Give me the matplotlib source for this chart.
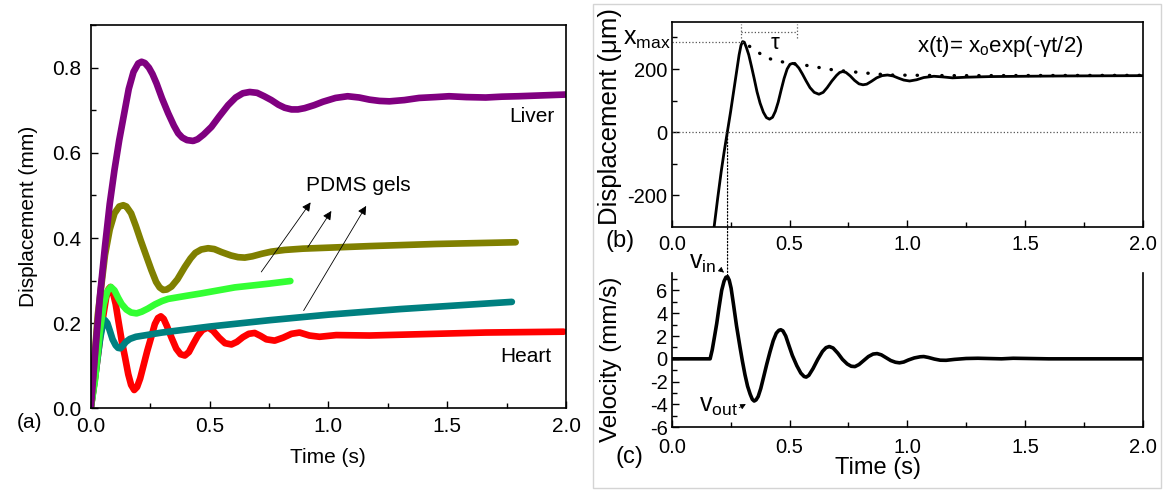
import matplotlib
matplotlib.use('Agg')
import matplotlib.pyplot as plt
from matplotlib.patches import ConnectionPatch, Rectangle
from matplotlib.ticker import MultipleLocator

plt.rcParams['font.family'] = ['Liberation Sans', 'DejaVu Sans']
plt.rcParams['mathtext.fontset'] = 'custom'
plt.rcParams['mathtext.rm'] = 'Liberation Sans'
plt.rcParams['mathtext.it'] = 'Liberation Sans'
plt.rcParams['axes.unicode_minus'] = False

# ---- panel (a): displacement of tissues and gels (mm) ----
liver_t = [0, 0.02, 0.04, 0.06, 0.08, 0.10, 0.12, 0.14, 0.16, 0.18, 0.20, 0.214, 0.228, 0.245,
           0.26, 0.277, 0.30, 0.326, 0.35, 0.368, 0.385, 0.405, 0.431, 0.45, 0.475, 0.508,
           0.54, 0.578, 0.61, 0.64, 0.669, 0.70, 0.73, 0.76, 0.79, 0.816, 0.845, 0.872, 0.90,
           0.94, 0.977, 1.03, 1.081, 1.13, 1.173, 1.215, 1.257, 1.32, 1.382, 1.45, 1.508,
           1.58, 1.662, 1.73, 1.80, 1.90, 2.0]
liver_v = [0, 0.14, 0.27, 0.38, 0.48, 0.56, 0.63, 0.69, 0.75, 0.79, 0.81, 0.814, 0.811, 0.80,
           0.785, 0.763, 0.728, 0.693, 0.664, 0.646, 0.636, 0.63, 0.628, 0.632, 0.643, 0.661,
           0.685, 0.712, 0.73, 0.74, 0.743, 0.741, 0.733, 0.724, 0.713, 0.706, 0.702, 0.702, 0.705,
           0.712, 0.72, 0.729, 0.733, 0.73, 0.725, 0.722, 0.721, 0.724, 0.729, 0.731, 0.733,
           0.731, 0.730, 0.732, 0.733, 0.735, 0.737]

gel1_t = [0, 0.03, 0.06, 0.08, 0.10, 0.12, 0.137, 0.15, 0.17, 0.19, 0.21, 0.235, 0.255, 0.275,
          0.29, 0.305, 0.32, 0.34, 0.365, 0.396, 0.42, 0.44, 0.465, 0.494, 0.52, 0.55, 0.59,
          0.62, 0.648, 0.68, 0.72, 0.76, 0.816, 0.893, 1.173, 1.452, 1.788]
gel1_v = [0, 0.22, 0.36, 0.42, 0.458, 0.474, 0.477, 0.474, 0.458, 0.428, 0.395, 0.356, 0.325,
          0.297, 0.284, 0.278, 0.279, 0.286, 0.303, 0.332, 0.352, 0.365, 0.373, 0.376, 0.374,
          0.367, 0.359, 0.355, 0.354, 0.357, 0.363, 0.368, 0.372, 0.375, 0.381, 0.386, 0.39]

gel2_t = [0, 0.018, 0.039, 0.055, 0.07, 0.085, 0.10, 0.115, 0.13, 0.15, 0.17, 0.193, 0.215,
          0.24, 0.27, 0.30, 0.326, 0.40, 0.466, 0.606, 0.753, 0.84]
gel2_v = [0, 0.066, 0.184, 0.245, 0.275, 0.285, 0.277, 0.26, 0.245, 0.232, 0.225, 0.223, 0.227,
          0.234, 0.244, 0.252, 0.257, 0.264, 0.27, 0.284, 0.293, 0.299]

gel3_t = [0, 0.02, 0.04, 0.052, 0.06, 0.07, 0.08, 0.092, 0.105, 0.115, 0.125, 0.135, 0.148,
          0.165, 0.19, 0.30, 0.50, 0.753, 1.0, 1.3, 1.55, 1.772]
gel3_v = [0, 0.08, 0.165, 0.20, 0.207, 0.20, 0.183, 0.162, 0.148, 0.142, 0.141, 0.147, 0.156,
          0.163, 0.168, 0.178, 0.192, 0.207, 0.22, 0.233, 0.242, 0.25]

heart_t = [0, 0.02, 0.045, 0.065, 0.075, 0.083, 0.092, 0.105, 0.116, 0.13, 0.144, 0.158, 0.17,
           0.183, 0.195, 0.208, 0.221, 0.238, 0.256, 0.27, 0.283, 0.295, 0.307, 0.32, 0.34,
           0.36, 0.378, 0.396, 0.413, 0.43, 0.45, 0.47, 0.494, 0.515, 0.54, 0.565, 0.592,
           0.615, 0.64, 0.665, 0.69, 0.715, 0.739, 0.774, 0.81, 0.845, 0.879, 0.92, 0.963,
           1.033, 1.173, 1.382, 1.662, 1.99]
heart_v = [0, 0.08, 0.19, 0.26, 0.28, 0.285, 0.275, 0.245, 0.207, 0.16, 0.121, 0.08, 0.055,
           0.043, 0.05, 0.07, 0.098, 0.135, 0.17, 0.198, 0.212, 0.216, 0.21, 0.194, 0.166,
           0.14, 0.127, 0.124, 0.132, 0.15, 0.17, 0.184, 0.19, 0.182, 0.166, 0.153, 0.15,
           0.156, 0.167, 0.175, 0.177, 0.17, 0.162, 0.159, 0.166, 0.175, 0.178, 0.171, 0.168,
           0.172, 0.171, 0.174, 0.178, 0.18]

# arrows (tail, head) pointing to "PDMS gels"
gel_arrows = [((0.711, 0.315), (0.932, 0.489)),
              ((0.907, 0.373), (1.019, 0.469)),
              ((0.89, 0.224), (1.165, 0.481))]

# ---- panel (b): displacement (um) ----
disp_t = [0.17, 0.18, 0.195, 0.21, 0.223, 0.236, 0.25, 0.263, 0.275, 0.286, 0.294, 0.301, 0.308,
          0.317, 0.327, 0.338, 0.35, 0.362, 0.375, 0.389, 0.402, 0.415, 0.428, 0.44, 0.452,
          0.465, 0.477, 0.49, 0.502, 0.514, 0.527, 0.54, 0.555, 0.57, 0.587, 0.605, 0.625,
          0.643, 0.66, 0.68, 0.70, 0.713, 0.726, 0.74, 0.758, 0.776, 0.795, 0.812, 0.828,
          0.848, 0.87, 0.893, 0.916, 0.94, 0.963, 0.985, 1.01, 1.04, 1.07, 1.113, 1.15,
          1.192, 1.25, 1.35, 1.5, 1.665, 2.0]
disp_v = [-360, -300, -210, -125, -60, 0, 65, 130, 190, 245, 275, 287, 285,
          268, 245, 210, 170, 128, 92, 63, 46, 41, 47, 66, 95,
          135, 170, 200, 215, 218, 214, 203, 184, 163, 141, 126, 120,
          126, 141, 162, 180, 189, 192, 189, 178, 164, 153, 150, 152,
          161, 172, 179, 181, 178, 171, 165, 162, 166, 173, 177, 175,
          172, 174, 176, 177, 178, 179]
env_t = [0.33, 0.355, 0.398, 0.466, 0.56, 0.687, 0.813, 0.923, 1.19, 2.0]
env_v = [272, 260, 236, 223, 213, 197, 188, 181, 179, 180]

# ---- panel (c): velocity (mm/s) ----
vel_t = [0, 0.163, 0.172, 0.182, 0.191, 0.20, 0.212, 0.222, 0.23, 0.237, 0.244, 0.252, 0.262,
         0.275, 0.29, 0.30, 0.311, 0.322, 0.333, 0.342, 0.35, 0.358, 0.367, 0.378, 0.39,
         0.403, 0.417, 0.431, 0.444, 0.455, 0.463, 0.472, 0.484, 0.497, 0.512, 0.531, 0.548,
         0.562, 0.571, 0.582, 0.60, 0.62, 0.64, 0.655, 0.669, 0.685, 0.705, 0.725, 0.745,
         0.762, 0.778, 0.795, 0.815, 0.835, 0.855, 0.872, 0.89, 0.91, 0.93, 0.95, 0.967,
         0.985, 1.005, 1.03, 1.055, 1.07, 1.09, 1.115, 1.14, 1.165, 1.2, 1.25, 1.3, 1.4,
         1.45, 1.6, 2.0]
vel_v = [0, 0, 0.8, 2.0, 3.1, 4.4, 6.0, 6.8, 7.15, 7.2, 6.9, 6.2, 4.8,
         2.9, 1.0, -0.2, -1.4, -2.4, -3.1, -3.55, -3.7, -3.6, -3.3, -2.6, -1.6,
         -0.5, 0.6, 1.6, 2.25, 2.5, 2.55, 2.45, 2.0, 1.2, 0.3, -0.6, -1.25,
         -1.55, -1.6, -1.45, -0.85, -0.05, 0.65, 0.98, 1.08, 0.95, 0.5, -0.05, -0.45,
         -0.65, -0.68, -0.5, -0.15, 0.2, 0.42, 0.46, 0.35, 0.1, -0.15, -0.3, -0.35,
         -0.28, -0.1, 0.08, 0.18, 0.2, 0.12, -0.02, -0.12, -0.13, -0.05, 0.03, 0.05, 0.0,
         0.05, 0.0, 0.0]

fig = plt.figure(figsize=(11.63, 4.9), dpi=100)

# frame around right half
fig.add_artist(Rectangle((0.5095, 0.004), 0.489, 0.987, transform=fig.transFigure,
                         fill=False, edgecolor='#d4d4d4', lw=1))

def style(ax, size, xpad=6, ypad=4):
    ax.tick_params(which='both', direction='in', top=False, right=False, labelsize=size, width=1)
    ax.tick_params(which='major', length=5)
    ax.tick_params(which='minor', length=3.5)
    ax.tick_params(axis='x', pad=xpad)
    ax.tick_params(axis='y', pad=ypad)
    for s in ax.spines.values():
        s.set_linewidth(1.2)

# panel (a)
ax = fig.add_axes([0.078, 0.1667, 0.4087, 0.782])
lw = 4.8
kw = dict(lw=lw, solid_joinstyle='round', solid_capstyle='round')
ax.plot(heart_t, heart_v, color='#ff0000', **kw)
ax.plot(gel3_t, gel3_v, color='#008080', **kw)
ax.plot(gel2_t, gel2_v, color='#33ff33', **kw)
ax.plot(gel1_t, gel1_v, color='#808000', **kw)
ax.plot(liver_t, liver_v, color='#800080', **kw)
for tail, head in gel_arrows:
    ax.annotate('', xy=head, xytext=tail,
                arrowprops=dict(arrowstyle='-|>', color='k', lw=0.6, mutation_scale=13))
ax.text(1.95, 0.685, 'Liver', fontsize=15, ha='right', va='center')
ax.text(1.94, 0.121, 'Heart', fontsize=15, ha='right', va='center')
ax.text(0.907, 0.524, 'PDMS gels', fontsize=15, ha='left', va='center')
ax.set_xlim(0, 2.0)
ax.set_ylim(0, 0.9)
ax.xaxis.set_major_locator(MultipleLocator(0.5))
ax.xaxis.set_minor_locator(MultipleLocator(0.25))
ax.yaxis.set_major_locator(MultipleLocator(0.2))
ax.yaxis.set_minor_locator(MultipleLocator(0.1))
ax.xaxis.set_major_formatter(lambda v, p: f'{v:.1f}')
ax.yaxis.set_major_formatter(lambda v, p: f'{v:.1f}')
style(ax, 15, xpad=6, ypad=7)
ax.set_xlabel('Time (s)', fontsize=15, labelpad=9)
ax.set_ylabel('Displacement (mm)', fontsize=15, labelpad=10)
fig.text(0.014, 0.137, '(a)', fontsize=15, va='center')

# panel (b)
axb = fig.add_axes([0.5776, 0.5373, 0.405, 0.4184])
axb.plot(disp_t, disp_v, color='k', lw=2, solid_joinstyle='round')
axb.plot(env_t, env_v, color='k', lw=2.4, linestyle=(0, (0.1, 3.6)), dash_capstyle='round')
axb.axhline(0, color='#555555', lw=0.9, linestyle=':')
axb.plot([0, 0.301], [287, 287], color='#555555', lw=0.9, linestyle=':')
axb.plot([0.294, 0.531], [318, 318], color='#555555', lw=0.9, linestyle=':')
axb.plot([0.294, 0.294], [298, 342], color='#555555', lw=0.9, linestyle=':')
axb.plot([0.531, 0.531], [298, 342], color='#555555', lw=0.9, linestyle=':')
axb.text(0.44, 280, 'τ', fontsize=16, ha='center', va='center')
axb.text(-0.005, 295, r'x$_\mathregular{max}$', fontsize=18, ha='right', va='center')
axb.text(1.04, 270, r'x(t)= x$_\mathregular{o}$exp(-γt/2)', fontsize=16,
         ha='left', va='center')
axb.set_xlim(0, 2.0)
axb.set_ylim(-300, 350)
axb.xaxis.set_major_locator(MultipleLocator(0.5))
axb.xaxis.set_minor_locator(MultipleLocator(0.25))
axb.set_yticks([-200, 0, 200])
axb.set_yticks([-100, 100, 300], minor=True)
axb.xaxis.set_major_formatter(lambda v, p: f'{v:.1f}')
style(axb, 14.5, xpad=6, ypad=3)
axb.set_ylabel('Displacement (μm)', fontsize=18.5)
axb.yaxis.set_label_coords(-0.105, 0.54)
fig.text(0.521, 0.508, '(b)', fontsize=17, va='center')

# panel (c)
axc = fig.add_axes([0.5776, 0.128, 0.405, 0.3143])
axc.plot(vel_t, vel_v, color='k', lw=2.6, solid_joinstyle='round')
axc.set_xlim(0, 2.0)
axc.set_ylim(-6, 7.5)
axc.spines['top'].set_visible(False)
axc.xaxis.set_major_locator(MultipleLocator(0.5))
axc.xaxis.set_minor_locator(MultipleLocator(0.25))
axc.set_yticks([-6, -4, -2, 0, 2, 4, 6])
axc.set_yticks([-5, -3, -1, 1, 3, 5, 7], minor=True)
axc.xaxis.set_major_formatter(lambda v, p: f'{v:.1f}')
style(axc, 14.5, xpad=8, ypad=3)
axc.set_ylabel('Velocity (mm/s)', fontsize=17.5)
axc.yaxis.set_label_coords(-0.105, 0.44)
axc.set_xlabel('Time (s)', fontsize=17)
axc.xaxis.set_label_coords(0.438, -0.19)
axc.text(0.13, 8.4, r'v$_\mathregular{in}$', fontsize=18, ha='center', va='center')
axc.annotate('', xy=(0.231, 7.4), xytext=(0.205, 7.85),
             arrowprops=dict(arrowstyle='-|>', color='k', lw=0.6, mutation_scale=8))
axc.text(0.198, -4.1, r'v$_\mathregular{out}$', fontsize=18, ha='center', va='center')
axc.annotate('', xy=(0.325, -3.85), xytext=(0.276, -4.4),
             arrowprops=dict(arrowstyle='-|>', color='k', lw=0.6, mutation_scale=8))
fig.text(0.529, 0.067, '(c)', fontsize=17, va='center')

# dotted link from zero crossing in (b) to velocity peak in (c)
con = ConnectionPatch(xyA=(0.237, 0), coordsA=axb.transData,
                      xyB=(0.237, 7.2), coordsB=axc.transData,
                      linestyle=':', color='k', lw=0.9)
fig.add_artist(con)

fig.savefig('out.png', dpi=100)
